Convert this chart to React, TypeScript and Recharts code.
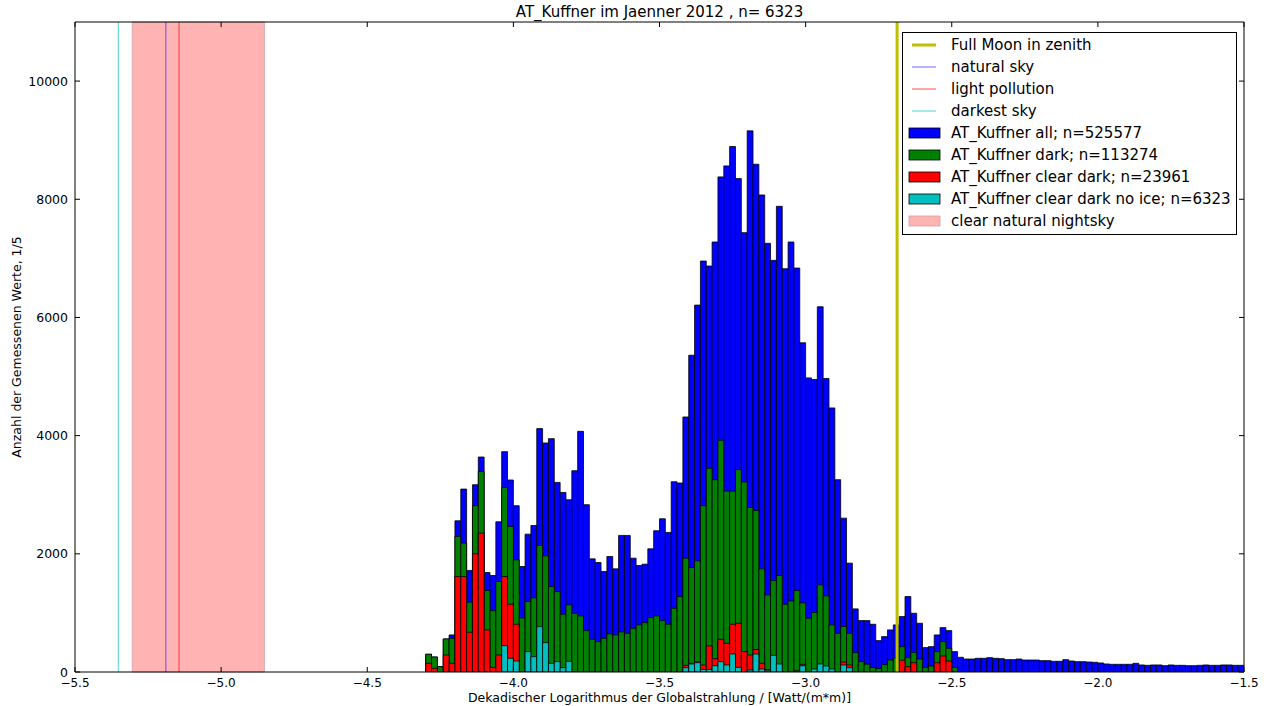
import { BarChart, Bar, XAxis, YAxis, ReferenceLine, ReferenceArea, Legend, Label } from "recharts"

// histogram bins: 0.02 wide, first filled bin starts at -4.30
const binStart = -4.3
const binWidth = 0.02

const allCounts = [
  300, 254, 90, 559, 627, 2559, 3096, 1718, 3169, 3638,
  1684, 1633, 2542, 3729, 3249, 2814, 1785, 2333, 2480, 4119,
  3876, 3949, 3209, 3039, 2915, 3407, 4073, 2831, 1915, 1853,
  1701, 1955, 1746, 2311, 2311, 1926, 1802, 1825, 2085, 2390,
  2593, 2362, 3220, 3198, 4316, 5361, 6209, 6955, 6870, 7277,
  8379, 8565, 8893, 8350, 7435, 9158, 8593, 8073, 7254, 6966,
  7881, 6825, 7277, 6836, 5571, 4977, 4949, 6181, 4966, 4469,
  3254, 2604, 1842, 1068, 870, 870, 808, 531, 599, 712,
  797, 938, 1277, 994, 825, 413, 429, 627, 751, 701,
  345, 249, 220, 220, 232, 232, 243, 232, 226, 209,
  209, 220, 203, 203, 203, 192, 192, 181, 181, 209,
  186, 175, 175, 169, 164, 153, 136, 130, 130, 130,
  130, 147, 119, 113, 119, 119, 107, 119, 113, 113,
  107, 107, 113, 119, 113, 113, 119, 119, 113, 113,
]

const darkCounts = [
  300, 254, 90, 559, 571, 2294, 2181, 1181, 2814, 3395,
  1379, 1040, 1531, 3124, 2463, 1898, 915, 1192, 1254, 2141,
  1966, 1446, 1361, 978, 1136, 994, 949, 700, 554, 514,
  571, 644, 627, 678, 655, 740, 797, 836, 921, 949,
  870, 808, 1079, 1277, 1926, 1768, 1881, 2814, 3446, 3254,
  3921, 3062, 3062, 3424, 3215, 2785, 2734, 1746, 1305, 1548,
  1633, 1147, 1203, 1379, 1170, 910, 1006, 1475, 1288, 797,
  655, 770, 655, 328, 175, 133, 76, 60, 125, 203,
  237, 429, 249, 328, 220, 79, 102, 345, 514, 401,
  79, 0, 0, 0, 0, 0, 0, 0, 0, 0,
  0, 0, 0, 0, 0, 0, 0, 0, 0, 0,
  0, 0, 0, 0, 0, 0, 0, 0, 0, 0,
  0, 0, 0, 0, 0, 0, 0, 0, 0, 0,
  0, 0, 0, 0, 0, 0, 0, 0, 0, 0,
]

const clearDarkCounts = [
  147, 62, 0, 288, 147, 1616, 1616, 672, 2000, 2350,
  712, 79, 288, 1616, 1147, 808, 0, 0, 0, 0,
  0, 0, 0, 0, 0, 0, 0, 0, 0, 0,
  0, 0, 0, 0, 0, 0, 0, 0, 0, 0,
  0, 0, 0, 0, 113, 147, 169, 119, 441, 226,
  554, 486, 808, 825, 345, 288, 380, 147, 40, 0,
  0, 0, 0, 20, 130, 0, 0, 0, 0, 0,
  0, 169, 119, 0, 0, 0, 0, 0, 0, 0,
  0, 200, 90, 158, 0, 0, 0, 158, 271, 186,
  0, 0, 0, 0, 0, 0, 0, 0, 0, 0,
  0, 0, 0, 0, 0, 0, 0, 0, 0, 0,
  0, 0, 0, 0, 0, 0, 0, 0, 0, 0,
  0, 0, 0, 0, 0, 0, 0, 0, 0, 0,
  0, 0, 0, 0, 0, 0, 0, 0, 0, 0,
]

const noIceCounts = [
  0, 0, 0, 0, 0, 0, 0, 0, 0, 0,
  0, 0, 0, 446, 232, 186, 0, 345, 260, 768,
  497, 147, 175, 73, 181, 0, 0, 0, 0, 0,
  0, 0, 0, 0, 0, 0, 0, 0, 0, 0,
  0, 0, 0, 0, 73, 136, 158, 45, 45, 107,
  175, 119, 305, 79, 0, 34, 305, 51, 30, 282,
  136, 0, 0, 0, 105, 0, 51, 136, 102, 51,
  0, 119, 73, 0, 0, 0, 0, 0, 0, 0,
  0, 0, 0, 0, 0, 0, 0, 0, 0, 0,
  0, 0, 0, 0, 0, 0, 0, 0, 0, 0,
  0, 0, 0, 0, 0, 0, 0, 0, 0, 0,
  0, 0, 0, 0, 0, 0, 0, 0, 0, 0,
  0, 0, 0, 0, 0, 0, 0, 0, 0, 0,
  0, 0, 0, 0, 0, 0, 0, 0, 0, 0,
]

const xTicks = [-5.5, -5.0, -4.5, -4.0, -3.5, -3.0, -2.5, -2.0, -1.5]
const yTicks = [0, 2000, 4000, 6000, 8000, 10000]
const xMin = -5.5
const xMax = -1.5
const yMax = 11000

const fullMoon = -2.687
const naturalSky = -5.189
const lightPollution = -5.144
const darkestSky = -5.352
const nightskyFrom = -5.304
const nightskyTo = -4.852

const title = "AT_Kuffner im Jaenner 2012 , n= 6323"

const data = allCounts.map((v, i) => ({
  x: Math.round((binStart + binWidth * (i + 0.5)) * 1000) / 1000,
  all: v,
  dark: darkCounts[i],
  clear: clearDarkCounts[i],
  noIce: noIceCounts[i],
}))

const legendItems = [
  { name: "Full Moon in zenith", kind: "line", color: "#bfbf00", width: 3, opacity: 1 },
  { name: "natural sky", kind: "line", color: "#0000ff", width: 1, opacity: 0.6 },
  { name: "light pollution", kind: "line", color: "#ff0000", width: 1, opacity: 0.7 },
  { name: "darkest sky", kind: "line", color: "#00bfbf", width: 1, opacity: 0.7 },
  { name: "AT_Kuffner all; n=525577", kind: "patch", color: "#0000ff" },
  { name: "AT_Kuffner dark; n=113274", kind: "patch", color: "#008000" },
  { name: "AT_Kuffner clear dark; n=23961", kind: "patch", color: "#ff0000" },
  { name: "AT_Kuffner clear dark no ice; n=6323", kind: "patch", color: "#00bfbf" },
  { name: "clear natural nightsky", kind: "area", color: "#ffb3b3" },
]

const FONT = "DejaVu Sans"
const fmtX = (v: number) => v.toFixed(1).replace("-", "\u2212")

// matplotlib style: tick marks point into the axes
function XTick(props: any) {
  const { x, y, payload } = props
  return (
    <g>
      <line x1={x} x2={x} y1={y} y2={y - 5} stroke="#000" />
      <text x={x} y={y + 15} textAnchor="middle" fill="#000" fontSize={12} fontFamily={FONT}>
        {fmtX(payload.value)}
      </text>
    </g>
  )
}

function YTick(props: any) {
  const { x, y, payload } = props
  return (
    <g>
      <line x1={x} x2={x + 5} y1={y} y2={y} stroke="#000" />
      <text x={x - 7} y={y + 4.5} textAnchor="end" fill="#000" fontSize={12.5} fontFamily={FONT}>
        {payload.value}
      </text>
    </g>
  )
}

function LegendBox() {
  return (
    <div
      style={{
        width: 335,
        height: 203,
        border: "1px solid #000",
        background: "#fff",
        boxSizing: "border-box",
        paddingTop: 1,
        fontFamily: FONT,
        fontSize: 15,
        color: "#000",
      }}
    >
      {legendItems.map((it) => (
        <div key={it.name} style={{ height: 22, display: "flex", alignItems: "center" }}>
          <svg width={48} height={14} style={{ flex: "none" }}>
            {it.kind === "line" ? (
              <line x1={9} x2={33} y1={7} y2={7} stroke={it.color} strokeWidth={it.width} strokeOpacity={it.opacity} />
            ) : (
              <rect
                x={6}
                y={2}
                width={31}
                height={10}
                fill={it.color}
                stroke={it.kind === "area" ? "#d8a0a0" : "#000"}
                strokeWidth={0.8}
              />
            )}
          </svg>
          <span style={{ whiteSpace: "nowrap" }}>{it.name}</span>
        </div>
      ))}
    </div>
  )
}

export default function App() {
  return (
    <div style={{ position: "absolute", left: 0, top: 0, width: 1270, height: 706, background: "#fff" }}>
      <BarChart
        width={1270}
        height={706}
        data={data}
        margin={{ top: 22, right: 26, bottom: 0, left: 0 }}
        barGap={-5.84}
        barSize={5.84}
      >
        <ReferenceArea
          x1={nightskyFrom}
          x2={nightskyTo}
          fill="#ffb3b3"
          fillOpacity={1}
          stroke="#c89a9a"
          strokeOpacity={0.7}
        />
        <XAxis
          type="number"
          dataKey="x"
          domain={[xMin, xMax]}
          allowDataOverflow
          ticks={xTicks}
          height={34}
          tickSize={0}
          tickMargin={0}
          tickLine={false}
          tick={<XTick />}
          stroke="#000"
        >
          <Label
            value="Dekadischer Logarithmus der Globalstrahlung / [Watt/(m*m)]"
            position="insideBottom"
            offset={4}
            style={{ fill: "#000", fontSize: 12.5, fontFamily: FONT }}
          />
        </XAxis>
        <YAxis
          type="number"
          domain={[0, yMax]}
          allowDataOverflow
          ticks={yTicks}
          width={75}
          tickSize={0}
          tickMargin={0}
          tickLine={false}
          tick={<YTick />}
          stroke="#000"
        >
          <Label
            value="Anzahl der Gemessenen Werte, 1/5"
            angle={-90}
            position="insideLeft"
            offset={17}
            style={{ fill: "#000", fontSize: 12.5, fontFamily: FONT, textAnchor: "middle" }}
          />
        </YAxis>
        <Bar dataKey="all" fill="#0000ff" stroke="#000" strokeWidth={0.8} isAnimationActive={false} />
        <Bar dataKey="dark" fill="#008000" stroke="#000" strokeWidth={0.8} isAnimationActive={false} />
        <Bar dataKey="clear" fill="#ff0000" stroke="#000" strokeWidth={0.8} isAnimationActive={false} />
        <Bar dataKey="noIce" fill="#00bfbf" stroke="#000" strokeWidth={0.8} isAnimationActive={false} />
        <ReferenceLine x={darkestSky} stroke="#00bfbf" strokeOpacity={0.7} strokeWidth={1} />
        <ReferenceLine x={naturalSky} stroke="#0000ff" strokeOpacity={0.6} strokeWidth={1} />
        <ReferenceLine x={lightPollution} stroke="#ff0000" strokeOpacity={0.7} strokeWidth={1} />
        <ReferenceLine x={fullMoon} stroke="#bfbf00" strokeWidth={3} />
        {/* frame: top and right spines with inward ticks */}
        <ReferenceLine
          y={yMax}
          stroke="#000"
          label={{ value: title, position: "top", offset: 5, fill: "#000", fontSize: 15, fontFamily: FONT }}
        />
        <ReferenceLine x={xMax} stroke="#000" />
        {xTicks.map((t) => (
          <ReferenceLine key={"tx" + t} segment={[{ x: t, y: yMax }, { x: t, y: yMax - 85 }]} stroke="#000" />
        ))}
        {yTicks.map((t) => (
          <ReferenceLine key={"ty" + t} segment={[{ x: xMax, y: t }, { x: xMax - 0.017, y: t }]} stroke="#000" />
        ))}
        <Legend
          layout="vertical"
          align="center"
          verticalAlign="middle"
          content={() => <LegendBox />}
          wrapperStyle={{ left: 902, top: 32, width: 335, height: 203 }}
        />
      </BarChart>
    </div>
  )
}
